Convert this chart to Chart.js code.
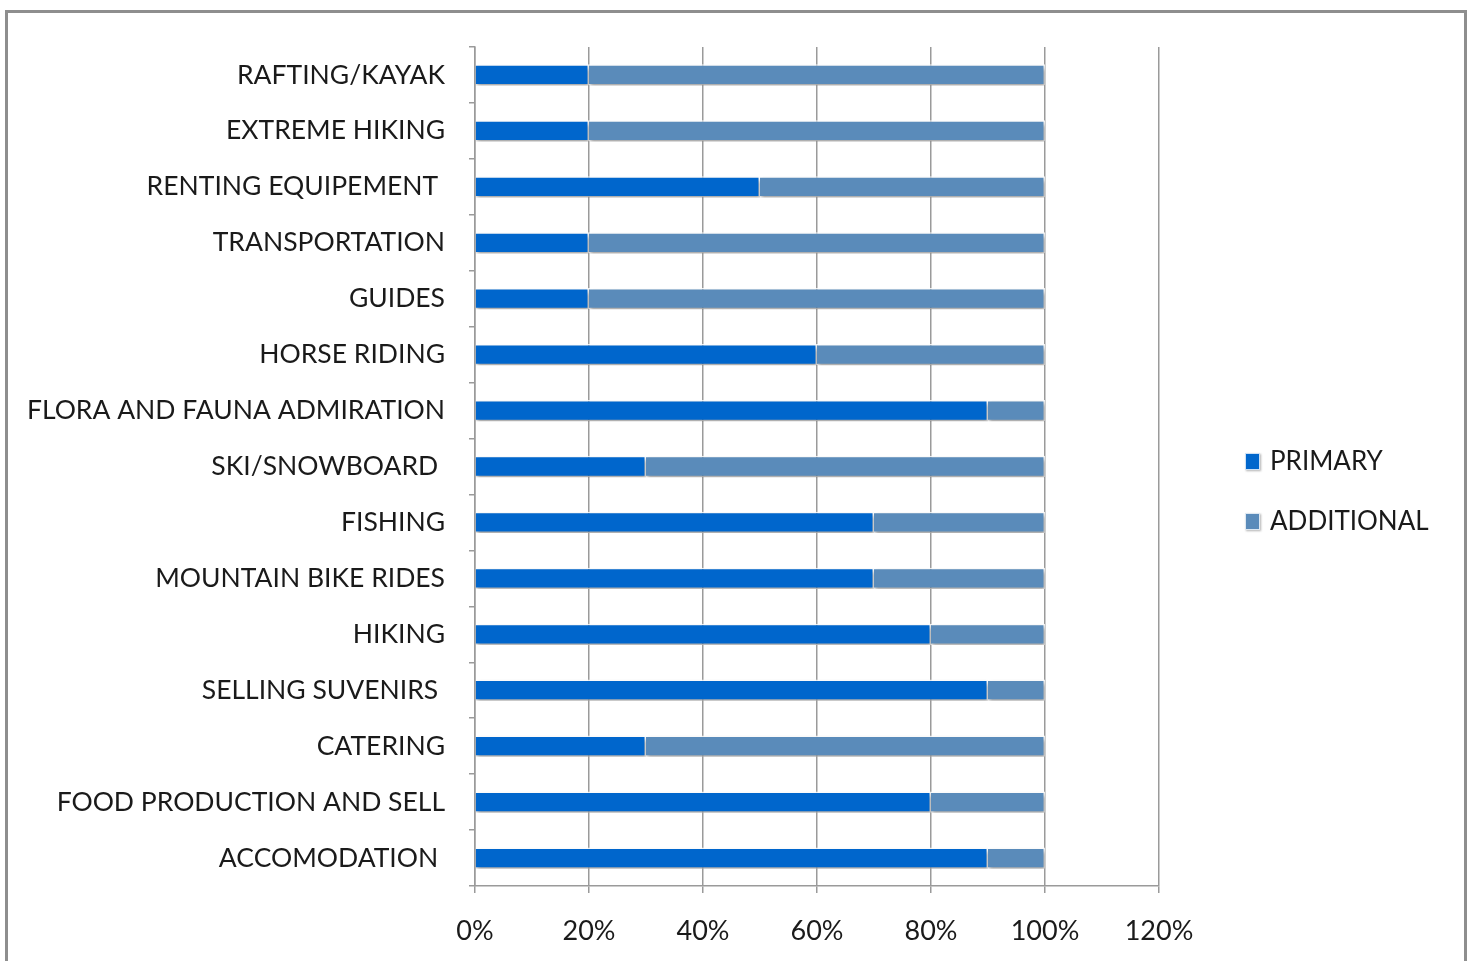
<!DOCTYPE html>
<html>
<head>
<meta charset="utf-8">
<script src="https://cdn.jsdelivr.net/npm/chart.js@4.4.1/dist/chart.umd.min.js"></script>
<style>
  html, body { margin: 0; padding: 0; background: #fff; overflow: hidden; }
  #frame { position: absolute; left: 5px; top: 10px; width: 1456px; height: 960px; border: 3px solid #8e8e8e; border-bottom: none; }
  #wrap { position: absolute; left: 0; top: 0; width: 1472px; height: 961px; }
</style>
</head>
<body>
<div id="frame"></div>
<div id="wrap"><canvas id="chart"></canvas></div>
<script>
// activities, top to bottom
const activities = [
  "RAFTING/KAYAK", "EXTREME HIKING", "RENTING EQUIPEMENT ", "TRANSPORTATION", "GUIDES",
  "HORSE RIDING", "FLORA AND FAUNA ADMIRATION", "SKI/SNOWBOARD ", "FISHING", "MOUNTAIN BIKE RIDES",
  "HIKING", "SELLING SUVENIRS ", "CATERING", "FOOD PRODUCTION AND SELL", "ACCOMODATION "
];
// share of respondents (%)
const primary    = [20, 20, 50, 20, 20, 60, 90, 30, 70, 70, 80, 90, 30, 80, 90];
const additional = [80, 80, 50, 80, 80, 40, 10, 70, 30, 30, 20, 10, 70, 20, 10];
const seriesNames = ["PRIMARY", "ADDITIONAL"];
const seriesColors = ["#0066cc", "#5a8bba"];
const xTicks = [0, 20, 40, 60, 80, 100, 120];

const FONT = "Lato, 'Open Sans', sans-serif";

// soft drop shadow under the bars
const barShadow = {
  id: "barShadow",
  beforeDatasetsDraw(chart) {
    const ctx = chart.ctx;
    ctx.save();
    ctx.shadowColor = "rgba(0,0,0,0.35)";
    ctx.shadowBlur = 4;
    ctx.shadowOffsetX = 1;
    ctx.shadowOffsetY = 3;
  },
  afterDatasetsDraw(chart) { chart.ctx.restore(); }
};

// legend to the right of the plot
const sideLegend = {
  id: "sideLegend",
  afterDraw(chart) {
    const ctx = chart.ctx;
    const x = chart.chartArea.right + 86;
    const y0 = 461, gap = 60;
    ctx.save();
    chart.data.datasets.forEach((ds, i) => {
      const y = y0 + i * gap;
      ctx.save();
      ctx.shadowColor = "rgba(0,0,0,0.3)";
      ctx.shadowBlur = 2;
      ctx.shadowOffsetX = 1;
      ctx.shadowOffsetY = 1;
      ctx.fillStyle = ds.backgroundColor;
      ctx.fillRect(x, y - 8, 15, 17);
      ctx.restore();
      ctx.strokeStyle = "rgba(255,255,255,0.8)";
      ctx.lineWidth = 1;
      ctx.strokeRect(x + 0.5, y - 7.5, 14, 16);
      ctx.fillStyle = "#1a1a1a";
      ctx.font = "26px " + FONT;
      ctx.textAlign = "left";
      ctx.textBaseline = "middle";
      ctx.fillText(ds.label, x + 25, y + 1);
    });
    ctx.restore();
  }
};

new Chart(document.getElementById("chart"), {
  type: "bar",
  data: {
    labels: activities,
    datasets: [
      { label: seriesNames[0], data: primary, backgroundColor: seriesColors[0] },
      { label: seriesNames[1], data: additional, backgroundColor: seriesColors[1] }
    ]
  },
  options: {
    indexAxis: "y",
    responsive: true, maintainAspectRatio: false,
    animation: false,
    datasets: { bar: { barPercentage: 0.38, categoryPercentage: 1, borderColor: "rgba(255,255,255,0.85)", borderWidth: 1.5 } },
    layout: { padding: { top: 47, right: 313, left: 0, bottom: 0 } },
    plugins: { legend: { display: false }, tooltip: { enabled: false } },
    scales: {
      x: {
        stacked: true, min: 0, max: 120,
        afterBuildTicks: (s) => { s.ticks = xTicks.map(v => ({ value: v })); },
        afterFit: (s) => { s.height = 75; },
        grid: { color: "#9a9a9a", lineWidth: 1.5, tickLength: 7 },
        border: { color: "#9a9a9a", width: 1.5 },
        ticks: { color: "#1a1a1a", font: { size: 27, family: FONT }, padding: 22, callback: v => v + "%" }
      },
      y: {
        stacked: true,
        afterFit: (s) => { s.width = 475; },
        grid: { drawOnChartArea: false, color: "#9a9a9a", lineWidth: 1.5, tickLength: 6 },
        border: { color: "#9a9a9a", width: 1.5 },
        ticks: { color: "#1a1a1a", font: { size: 26.5, family: FONT }, padding: 24, autoSkip: false }
      }
    }
  },
  plugins: [barShadow, sideLegend]
});
</script>
</body>
</html>
